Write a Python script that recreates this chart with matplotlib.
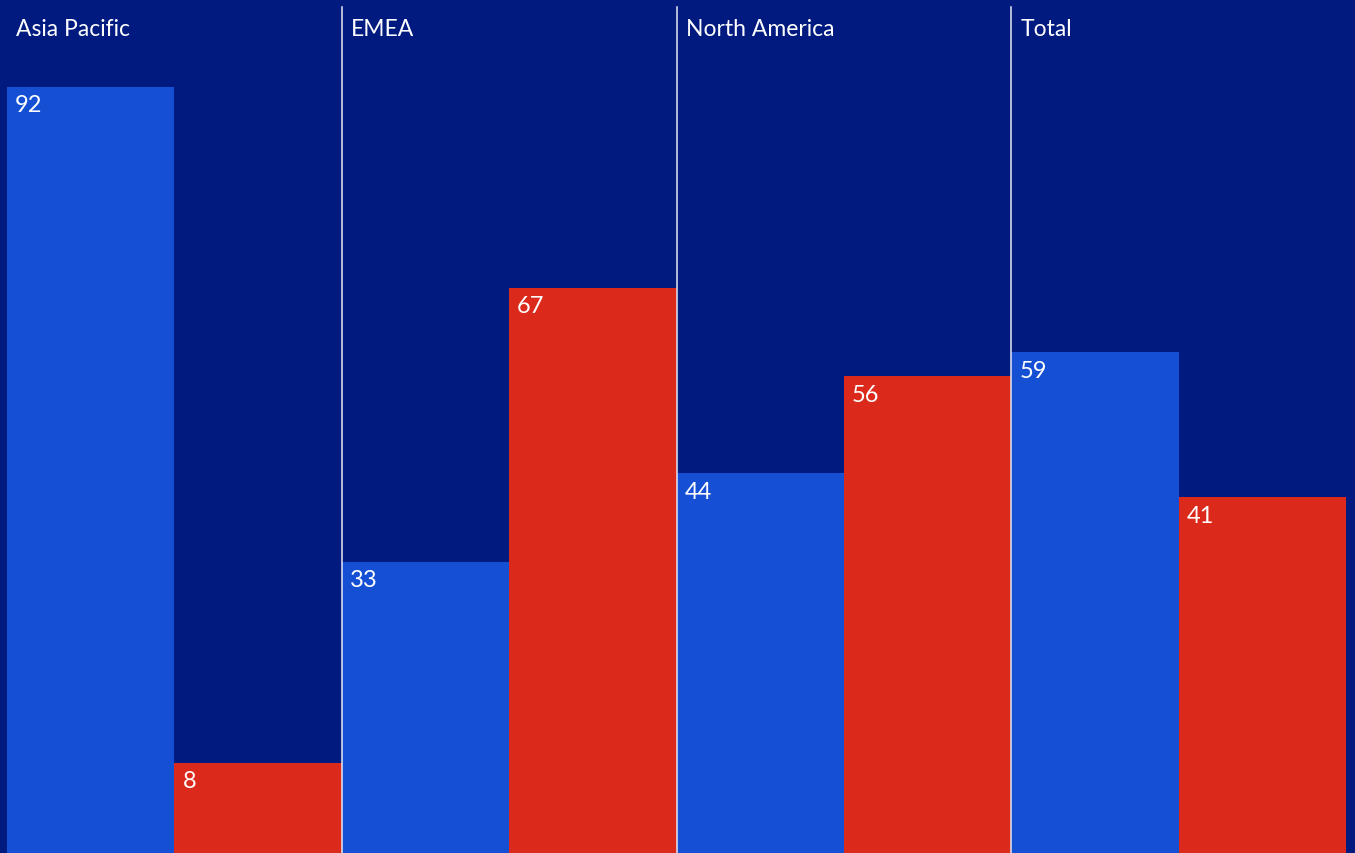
import matplotlib
matplotlib.use("Agg")
import matplotlib.pyplot as plt
import numpy as np

# Data
regions = ["Asia Pacific", "EMEA", "North America", "Total"]
blueVals = [92, 33, 44, 59]
redVals = [8, 67, 56, 41]

# Colours
outerBg = "#001a80"
innerBg = "#001468"
blueCol = "#1550d4"
redCol = "#db291c"

plt.rcParams["font.family"] = ["Lato", "DejaVu Sans"]

fig = plt.figure(figsize=(13.55, 8.54), dpi=100, facecolor=outerBg)
ax = fig.add_axes([7 / 1355, 0, 1339 / 1355, 1])
ax.set_facecolor(innerBg)

yMin, yMax = -3.2, 102.9
x = np.arange(len(regions))
blueH = np.array(blueVals) - yMin
redH = np.array(redVals) - yMin
ax.bar(x + 0.25, blueH, width=0.5, bottom=yMin, color=blueCol, linewidth=0)
ax.bar(x + 0.75, redH, width=0.5, bottom=yMin, color=redCol, linewidth=0)

# Divider lines between panels
for i in range(1, len(regions)):
	ax.axvline(i, ymin=0, ymax=1 - 8 / 854, color="#e6e8f2", linewidth=1.1, zorder=3)

# Value labels at top left of each bar
for i in range(len(regions)):
	for off, v in ((0.0, blueVals[i]), (0.5, redVals[i])):
		ax.annotate(str(v), xy=(i + off, v), xytext=(8, -18), textcoords="offset pixels",
			ha="left", va="center", color="white", fontsize=17, zorder=4)

# Panel titles
for i, name in enumerate(regions):
	ax.annotate(name, xy=(i, 1), xycoords=("data", "axes fraction"), xytext=(9, -29),
		textcoords="offset pixels", ha="left", va="center", color="white", fontsize=16.5)

ax.set_xlim(0, 4)
ax.set_ylim(yMin, yMax)
ax.axis("off")

fig.savefig("out.png", dpi=100, facecolor=outerBg)
